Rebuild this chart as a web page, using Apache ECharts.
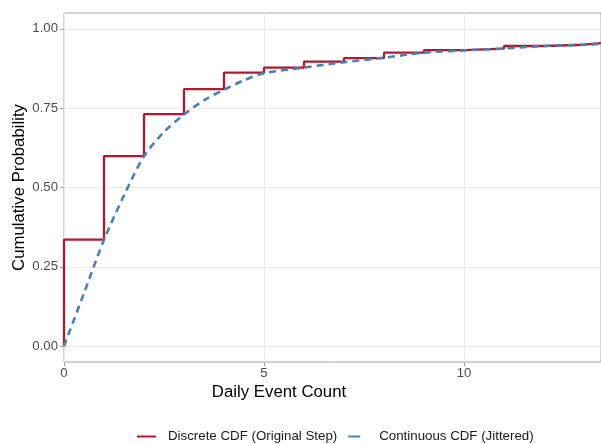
<!DOCTYPE html>
<html>
<head>
<meta charset="utf-8">
<script src="https://cdn.jsdelivr.net/npm/echarts@6/dist/echarts.min.js"></script>
<style>
  html, body { margin: 0; padding: 0; background: #fff; }
  #chart { width: 601px; height: 444px; }
</style>
</head>
<body>
<div id="chart"></div>
<script>
// discrete ECDF: count values and cumulative probability at each count
var stepCounts = [0, 1, 2, 3, 4, 5, 6, 7, 8, 9, 10, 11, 12, 13];
var stepProbs = [0.336, 0.599, 0.731, 0.810, 0.862, 0.878, 0.897, 0.908, 0.925, 0.933, 0.938, 0.946, 0.950, 0.955];

// continuous (jittered) ECDF
var jitterX = [0, 0.5, 1, 1.5, 2, 2.5, 3, 3.5, 4, 4.5, 5, 6, 7, 8, 9, 10, 11, 12, 13, 13.425];
var jitterY = [0, 0.167, 0.335, 0.475, 0.598, 0.675, 0.730, 0.775, 0.808, 0.838, 0.860, 0.878, 0.895, 0.909, 0.925, 0.932, 0.938, 0.946, 0.950, 0.953];

var xTicks = [0, 5, 10];
var yTicks = [0, 0.25, 0.5, 0.75, 1];
var xMax = 13.425;

var stepName = 'Discrete CDF (Original Step)';
var jitterName = 'Continuous CDF (Jittered)';

var stepData = [[stepCounts[0], 0]];
stepCounts.forEach(function (c, i) { stepData.push([c, stepProbs[i]]); });
stepData.push([xMax, stepProbs[stepProbs.length - 1]]);

var jitterData = jitterX.map(function (x, i) { return [x, jitterY[i]]; });

var font = 'Liberation Sans, Arial, sans-serif';
var red = '#b2182b';
var blue = '#4682b4';
var chart = echarts.init(document.getElementById('chart'));
chart.setOption({
  animation: false,
  textStyle: { fontFamily: font },
  grid: {
    left: 64, right: 0, top: 13, bottom: 82,
    outerBoundsMode: 'none', containLabel: false,
    show: true, borderColor: '#a6a6a6', borderWidth: 1, backgroundColor: '#fff'
  },
  xAxis: {
    type: 'value', min: 0, max: xMax,
    axisLine: { show: false, onZero: false },
    axisTick: { show: true, length: 4, lineStyle: { color: '#a6a6a6' }, customValues: xTicks },
    axisLabel: { color: '#4d4d4d', fontSize: 13.2, margin: 5, customValues: xTicks, fontFamily: font },
    splitLine: { show: true, lineStyle: { color: '#ebebeb', width: 1 } }
  },
  yAxis: {
    type: 'value', min: -0.05, max: 1.05,
    name: 'Cumulative Probability', nameLocation: 'middle', nameGap: 36, nameMoveOverlap: false,
    nameTextStyle: { color: '#000', fontSize: 16.8, fontFamily: font },
    axisLine: { show: false, onZero: false },
    axisTick: { show: true, length: 4, lineStyle: { color: '#a6a6a6' }, customValues: yTicks },
    axisLabel: {
      color: '#4d4d4d', fontSize: 13.2, margin: 6, customValues: yTicks, fontFamily: font,
      formatter: function (v) { return v.toFixed(2); }
    },
    splitLine: { show: true, lineStyle: { color: '#ebebeb', width: 1 } }
  },
  legend: {
    left: 131, top: 425,
    itemWidth: 19, itemHeight: 10, itemGap: 10,
    itemStyle: { opacity: 0 },
    textStyle: { color: '#1a1a1a', fontSize: 13.3, fontFamily: font, padding: [0, 0, 0, 7] },
    data: [
      { name: stepName },
      { name: jitterName, lineStyle: { type: [12, 9] } }
    ]
  },
  graphic: [{
    type: 'text', x: 279, y: 383.5,
    style: { text: 'Daily Event Count', fill: '#000', fontSize: 16.8, fontFamily: font, align: 'center', verticalAlign: 'top' }
  }],
  series: [
    {
      name: stepName, type: 'line', step: 'end',
      data: stepData, symbol: 'none', z: 2,
      lineStyle: { color: red, width: 2.3 },
      itemStyle: { color: red }
    },
    {
      name: jitterName, type: 'line', smooth: 0.3,
      data: jitterData, symbol: 'none', z: 3,
      lineStyle: { color: blue, width: 2.6, type: [7, 5] },
      itemStyle: { color: blue }
    }
  ]
});
</script>
</body>
</html>
